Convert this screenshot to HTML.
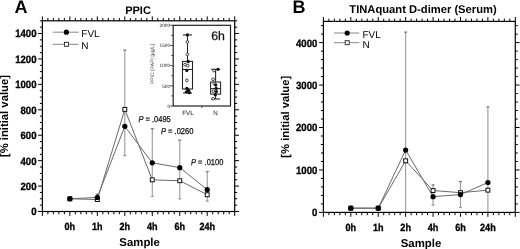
<!DOCTYPE html><html><head><meta charset="utf-8"><style>html,body{margin:0;padding:0;background:#fff;}svg{display:block;will-change:transform;text-rendering:geometricPrecision;font-family:"Liberation Sans",sans-serif;}</style></head><body>
<svg width="520" height="249" viewBox="0 0 520 249">
<rect width="520" height="249" fill="#fff"/>
<clipPath id="clip42"><rect x="42.4" y="20.8" width="192.3" height="190.7"/></clipPath>
<g clip-path="url(#clip42)">
<line x1="97.34" y1="199.55" x2="97.34" y2="194.08" stroke="#9a9a9a" stroke-width="1.1"/>
<line x1="95.84" y1="194.08" x2="98.84" y2="194.08" stroke="#777" stroke-width="1.2"/>
<line x1="124.81" y1="155.56" x2="124.81" y2="50.04" stroke="#9a9a9a" stroke-width="1.1"/>
<line x1="123.31" y1="50.04" x2="126.31" y2="50.04" stroke="#777" stroke-width="1.2"/>
<line x1="123.31" y1="155.56" x2="126.31" y2="155.56" stroke="#999" stroke-width="1.2"/>
<line x1="152.29" y1="196.5" x2="152.29" y2="128.61" stroke="#9a9a9a" stroke-width="1.1"/>
<line x1="150.79" y1="128.61" x2="153.79" y2="128.61" stroke="#777" stroke-width="1.2"/>
<line x1="150.79" y1="196.5" x2="153.79" y2="196.5" stroke="#999" stroke-width="1.2"/>
<line x1="179.76" y1="198.79" x2="179.76" y2="140.18" stroke="#9a9a9a" stroke-width="1.1"/>
<line x1="178.26" y1="140.18" x2="181.26" y2="140.18" stroke="#777" stroke-width="1.2"/>
<line x1="178.26" y1="198.79" x2="181.26" y2="198.79" stroke="#999" stroke-width="1.2"/>
<line x1="207.23" y1="201.08" x2="207.23" y2="171.71" stroke="#9a9a9a" stroke-width="1.1"/>
<line x1="205.73" y1="171.71" x2="208.73" y2="171.71" stroke="#777" stroke-width="1.2"/>
<line x1="205.73" y1="201.08" x2="208.73" y2="201.08" stroke="#999" stroke-width="1.2"/>
</g>
<polyline points="69.87,198.79 97.34,199.55 124.81,109.41 152.29,179.84 179.76,180.73 207.23,194.72" fill="none" stroke="#6a6a6a" stroke-width="1"/>
<polyline points="69.87,198.79 97.34,197.39 124.81,126.32 152.29,162.81 179.76,167.64 207.23,189.63" fill="none" stroke="#6a6a6a" stroke-width="1"/>
<rect x="67.92" y="196.84" width="3.9" height="3.9" fill="#fff" stroke="#111" stroke-width="1"/>
<rect x="95.39" y="197.6" width="3.9" height="3.9" fill="#fff" stroke="#111" stroke-width="1"/>
<rect x="122.86" y="107.46" width="3.9" height="3.9" fill="#fff" stroke="#111" stroke-width="1"/>
<rect x="150.34" y="177.89" width="3.9" height="3.9" fill="#fff" stroke="#111" stroke-width="1"/>
<rect x="177.81" y="178.78" width="3.9" height="3.9" fill="#fff" stroke="#111" stroke-width="1"/>
<rect x="205.28" y="192.77" width="3.9" height="3.9" fill="#fff" stroke="#111" stroke-width="1"/>
<circle cx="69.87" cy="198.79" r="2.6" fill="#000"/>
<circle cx="97.34" cy="197.39" r="2.6" fill="#000"/>
<circle cx="124.81" cy="126.32" r="2.6" fill="#000"/>
<circle cx="152.29" cy="162.81" r="2.6" fill="#000"/>
<circle cx="179.76" cy="167.64" r="2.6" fill="#000"/>
<circle cx="207.23" cy="189.63" r="2.6" fill="#000"/>
<rect x="42.4" y="20.8" width="192.3" height="190.7" fill="none" stroke="#000" stroke-width="1.2"/>
<path d="M42.4,211.5v4.4 M42.4,20.8v-4.4 M47.89,211.5v2.8 M47.89,20.8v-2.8 M53.39,211.5v2.8 M53.39,20.8v-2.8 M58.88,211.5v2.8 M58.88,20.8v-2.8 M64.38,211.5v2.8 M64.38,20.8v-2.8 M69.87,211.5v4.4 M69.87,20.8v-4.4 M75.37,211.5v2.8 M75.37,20.8v-2.8 M80.86,211.5v2.8 M80.86,20.8v-2.8 M86.35,211.5v2.8 M86.35,20.8v-2.8 M91.85,211.5v2.8 M91.85,20.8v-2.8 M97.34,211.5v4.4 M97.34,20.8v-4.4 M102.84,211.5v2.8 M102.84,20.8v-2.8 M108.33,211.5v2.8 M108.33,20.8v-2.8 M113.83,211.5v2.8 M113.83,20.8v-2.8 M119.32,211.5v2.8 M119.32,20.8v-2.8 M124.81,211.5v4.4 M124.81,20.8v-4.4 M130.31,211.5v2.8 M130.31,20.8v-2.8 M135.8,211.5v2.8 M135.8,20.8v-2.8 M141.3,211.5v2.8 M141.3,20.8v-2.8 M146.79,211.5v2.8 M146.79,20.8v-2.8 M152.29,211.5v4.4 M152.29,20.8v-4.4 M157.78,211.5v2.8 M157.78,20.8v-2.8 M163.27,211.5v2.8 M163.27,20.8v-2.8 M168.77,211.5v2.8 M168.77,20.8v-2.8 M174.26,211.5v2.8 M174.26,20.8v-2.8 M179.76,211.5v4.4 M179.76,20.8v-4.4 M185.25,211.5v2.8 M185.25,20.8v-2.8 M190.75,211.5v2.8 M190.75,20.8v-2.8 M196.24,211.5v2.8 M196.24,20.8v-2.8 M201.73,211.5v2.8 M201.73,20.8v-2.8 M207.23,211.5v4.4 M207.23,20.8v-4.4 M212.72,211.5v2.8 M212.72,20.8v-2.8 M218.22,211.5v2.8 M218.22,20.8v-2.8 M223.71,211.5v2.8 M223.71,20.8v-2.8 M229.21,211.5v2.8 M229.21,20.8v-2.8 M234.7,211.5v4.4 M234.7,20.8v-4.4 M42.4,211.5h-4.3 M234.7,211.5h4.3 M42.4,205.14h-2.5 M234.7,205.14h2.5 M42.4,198.79h-2.5 M234.7,198.79h2.5 M42.4,192.43h-2.5 M234.7,192.43h2.5 M42.4,186.07h-4.3 M234.7,186.07h4.3 M42.4,179.72h-2.5 M234.7,179.72h2.5 M42.4,173.36h-2.5 M234.7,173.36h2.5 M42.4,167h-2.5 M234.7,167h2.5 M42.4,160.65h-4.3 M234.7,160.65h4.3 M42.4,154.29h-2.5 M234.7,154.29h2.5 M42.4,147.93h-2.5 M234.7,147.93h2.5 M42.4,141.58h-2.5 M234.7,141.58h2.5 M42.4,135.22h-4.3 M234.7,135.22h4.3 M42.4,128.86h-2.5 M234.7,128.86h2.5 M42.4,122.51h-2.5 M234.7,122.51h2.5 M42.4,116.15h-2.5 M234.7,116.15h2.5 M42.4,109.79h-4.3 M234.7,109.79h4.3 M42.4,103.44h-2.5 M234.7,103.44h2.5 M42.4,97.08h-2.5 M234.7,97.08h2.5 M42.4,90.72h-2.5 M234.7,90.72h2.5 M42.4,84.37h-4.3 M234.7,84.37h4.3 M42.4,78.01h-2.5 M234.7,78.01h2.5 M42.4,71.65h-2.5 M234.7,71.65h2.5 M42.4,65.3h-2.5 M234.7,65.3h2.5 M42.4,58.94h-4.3 M234.7,58.94h4.3 M42.4,52.58h-2.5 M234.7,52.58h2.5 M42.4,46.23h-2.5 M234.7,46.23h2.5 M42.4,39.87h-2.5 M234.7,39.87h2.5 M42.4,33.51h-4.3 M234.7,33.51h4.3 M42.4,27.16h-2.5 M234.7,27.16h2.5 M42.4,20.8h-2.5 M234.7,20.8h2.5" stroke="#000" stroke-width="1.0" fill="none"/>
<text transform="translate(36.5,215.4) scale(1,1.1)" text-anchor="end" font-size="9.6" font-weight="bold" stroke="#000" stroke-width="0.3">0</text>
<text transform="translate(36.5,189.97) scale(1,1.1)" text-anchor="end" font-size="9.6" font-weight="bold" stroke="#000" stroke-width="0.3">200</text>
<text transform="translate(36.5,164.55) scale(1,1.1)" text-anchor="end" font-size="9.6" font-weight="bold" stroke="#000" stroke-width="0.3">400</text>
<text transform="translate(36.5,139.12) scale(1,1.1)" text-anchor="end" font-size="9.6" font-weight="bold" stroke="#000" stroke-width="0.3">600</text>
<text transform="translate(36.5,113.69) scale(1,1.1)" text-anchor="end" font-size="9.6" font-weight="bold" stroke="#000" stroke-width="0.3">800</text>
<text transform="translate(36.5,88.27) scale(1,1.1)" text-anchor="end" font-size="9.6" font-weight="bold" stroke="#000" stroke-width="0.3">1000</text>
<text transform="translate(36.5,62.84) scale(1,1.1)" text-anchor="end" font-size="9.6" font-weight="bold" stroke="#000" stroke-width="0.3">1200</text>
<text transform="translate(36.5,37.41) scale(1,1.1)" text-anchor="end" font-size="9.6" font-weight="bold" stroke="#000" stroke-width="0.3">1400</text>
<text transform="translate(69.87,230.1) scale(1,1.15)" text-anchor="middle" font-size="9.05" font-weight="bold" stroke="#000" stroke-width="0.3">0h</text>
<text transform="translate(97.34,230.1) scale(1,1.15)" text-anchor="middle" font-size="9.05" font-weight="bold" stroke="#000" stroke-width="0.3">1h</text>
<text transform="translate(124.81,230.1) scale(1,1.15)" text-anchor="middle" font-size="9.05" font-weight="bold" stroke="#000" stroke-width="0.3">2h</text>
<text transform="translate(152.29,230.1) scale(1,1.15)" text-anchor="middle" font-size="9.05" font-weight="bold" stroke="#000" stroke-width="0.3">4h</text>
<text transform="translate(179.76,230.1) scale(1,1.15)" text-anchor="middle" font-size="9.05" font-weight="bold" stroke="#000" stroke-width="0.3">6h</text>
<text transform="translate(207.23,230.1) scale(1,1.15)" text-anchor="middle" font-size="9.05" font-weight="bold" stroke="#000" stroke-width="0.3">24h</text>
<text x="139.6" y="245.9" text-anchor="middle" font-size="11.4" font-weight="bold">Sample</text>
<text transform="translate(7.8,116.05) rotate(-90)" text-anchor="middle" font-size="11.25" font-weight="bold">[% initial value]</text>
<text x="138" y="13.7" text-anchor="middle" font-size="11.0" font-weight="bold">PPIC</text>
<text x="14.4" y="12.6" font-size="18" font-weight="bold">A</text>
<line x1="52.8" y1="32.2" x2="78.7" y2="32.2" stroke="#888" stroke-width="1"/>
<line x1="52.8" y1="44.3" x2="78.7" y2="44.3" stroke="#888" stroke-width="1"/>
<circle cx="66.4" cy="32.2" r="2.6" fill="#000"/>
<rect x="64.4" y="42.3" width="4" height="4" fill="#fff" stroke="#222" stroke-width="0.9"/>
<text x="81.3" y="37.1" font-size="10">FVL</text>
<text x="81.3" y="49.2" font-size="10">N</text>
<rect x="173.2" y="25.3" width="57.3" height="80.7" fill="#fff" stroke="#222" stroke-width="1.2"/>
<path d="M173.2,106h-3 M173.2,95.91h-2 M173.2,85.83h-3 M173.2,75.74h-2 M173.2,65.65h-3 M173.2,55.56h-2 M173.2,45.47h-3 M173.2,35.39h-2 M173.2,25.3h-3 M201.85,106v2" stroke="#222" stroke-width="0.8" fill="none"/>
<text x="170.2" y="107.7" text-anchor="end" font-size="4.8" fill="#222">0</text>
<text x="170.2" y="87.53" text-anchor="end" font-size="4.8" fill="#222">500</text>
<text x="170.2" y="67.35" text-anchor="end" font-size="4.8" fill="#222">1000</text>
<text x="170.2" y="47.17" text-anchor="end" font-size="4.8" fill="#222">1500</text>
<text x="170.2" y="27" text-anchor="end" font-size="4.8" fill="#222">2000</text>
<text transform="translate(154.4,64.0) rotate(-90)" text-anchor="middle" font-size="5" fill="#444">PPIC (PAP) [&#181;g/L]</text>
<text x="188.0" y="115.1" text-anchor="middle" font-size="6.3" fill="#111">FVL</text>
<text x="215.6" y="115.1" text-anchor="middle" font-size="6.3" fill="#111">N</text>
<text x="218" y="39.6" text-anchor="middle" font-size="12.3" fill="#111" stroke="#111" stroke-width="0.25">6h</text>
<line x1="187.5" y1="93" x2="187.5" y2="34.9" stroke="#222" stroke-width="1.05"/>
<line x1="183" y1="34.9" x2="192" y2="34.9" stroke="#222" stroke-width="1.05"/>
<line x1="183" y1="93" x2="192" y2="93" stroke="#222" stroke-width="1.05"/>
<rect x="182.5" y="61.4" width="10" height="27.6" fill="#fff" stroke="#222" stroke-width="1.05"/>
<line x1="182.5" y1="69.5" x2="192.5" y2="69.5" stroke="#222" stroke-width="1.05"/>
<line x1="215.6" y1="99" x2="215.6" y2="69.3" stroke="#222" stroke-width="1.05"/>
<line x1="211.1" y1="69.3" x2="220.1" y2="69.3" stroke="#222" stroke-width="1.05"/>
<line x1="211.1" y1="99" x2="220.1" y2="99" stroke="#222" stroke-width="1.05"/>
<rect x="210.6" y="82" width="10" height="12.1" fill="#fff" stroke="#222" stroke-width="1.05"/>
<line x1="210.6" y1="88.6" x2="220.6" y2="88.6" stroke="#222" stroke-width="1.05"/>
<circle cx="187.4" cy="34.9" r="1.65" fill="#111"/>
<circle cx="187.4" cy="41.9" r="1.35" fill="#fff" stroke="#222" stroke-width="0.85"/>
<circle cx="187.4" cy="54.4" r="1.35" fill="#fff" stroke="#222" stroke-width="0.85"/>
<circle cx="185.1" cy="64.6" r="1.35" fill="#fff" stroke="#222" stroke-width="0.85"/>
<circle cx="187.7" cy="65.6" r="1.35" fill="#fff" stroke="#222" stroke-width="0.85"/>
<circle cx="188.2" cy="61.5" r="1.65" fill="#111"/>
<circle cx="186.8" cy="70.4" r="1.65" fill="#111"/>
<circle cx="186.8" cy="80.4" r="1.35" fill="#fff" stroke="#222" stroke-width="0.85"/>
<circle cx="186.8" cy="88.3" r="1.65" fill="#111"/>
<circle cx="188.6" cy="90.4" r="1.65" fill="#111"/>
<circle cx="186.4" cy="91.8" r="1.65" fill="#111"/>
<circle cx="189.4" cy="92.7" r="1.65" fill="#111"/>
<circle cx="218" cy="69.3" r="1.65" fill="#111"/>
<circle cx="214" cy="70.6" r="1.35" fill="#fff" stroke="#222" stroke-width="0.85"/>
<circle cx="213.1" cy="79.3" r="1.35" fill="#fff" stroke="#222" stroke-width="0.85"/>
<circle cx="214.3" cy="83.6" r="1.35" fill="#fff" stroke="#222" stroke-width="0.85"/>
<circle cx="215.7" cy="85" r="1.65" fill="#111"/>
<circle cx="216.2" cy="88.4" r="1.65" fill="#111"/>
<circle cx="213.4" cy="91.1" r="1.35" fill="#fff" stroke="#222" stroke-width="0.85"/>
<circle cx="216.4" cy="91.6" r="1.65" fill="#111"/>
<circle cx="215.3" cy="94.7" r="1.65" fill="#111"/>
<circle cx="213.1" cy="98.7" r="1.35" fill="#fff" stroke="#222" stroke-width="0.85"/>
<text transform="translate(138.4,122.2) scale(1,1.14)" font-size="7.5" fill="#111" stroke="#111" stroke-width="0.22"><tspan font-style="italic">P</tspan> = .0495</text>
<text transform="translate(161.0,134.3) scale(1,1.14)" font-size="7.5" fill="#111" stroke="#111" stroke-width="0.22"><tspan font-style="italic">P</tspan> = .0260</text>
<text transform="translate(191.0,165.1) scale(1,1.14)" font-size="7.5" fill="#111" stroke="#111" stroke-width="0.22"><tspan font-style="italic">P</tspan> = .0100</text>
<clipPath id="clip323"><rect x="323.4" y="21.4" width="191.9" height="191"/></clipPath>
<g clip-path="url(#clip323)">
<line x1="405.64" y1="220.89" x2="405.64" y2="32.1" stroke="#9a9a9a" stroke-width="1.1"/>
<line x1="404.14" y1="32.1" x2="407.14" y2="32.1" stroke="#777" stroke-width="1.2"/>
<line x1="433.06" y1="205.18" x2="433.06" y2="184.94" stroke="#9a9a9a" stroke-width="1.1"/>
<line x1="431.56" y1="184.94" x2="434.56" y2="184.94" stroke="#777" stroke-width="1.2"/>
<line x1="431.56" y1="205.18" x2="434.56" y2="205.18" stroke="#999" stroke-width="1.2"/>
<line x1="460.47" y1="207.48" x2="460.47" y2="181.67" stroke="#9a9a9a" stroke-width="1.1"/>
<line x1="458.97" y1="181.67" x2="461.97" y2="181.67" stroke="#777" stroke-width="1.2"/>
<line x1="458.97" y1="207.48" x2="461.97" y2="207.48" stroke="#999" stroke-width="1.2"/>
<line x1="487.89" y1="220.89" x2="487.89" y2="106.97" stroke="#9a9a9a" stroke-width="1.1"/>
<line x1="486.39" y1="106.97" x2="489.39" y2="106.97" stroke="#777" stroke-width="1.2"/>
</g>
<polyline points="350.81,208.16 378.23,208.16 405.64,160.79 433.06,190.54 460.47,192.66 487.89,190.16" fill="none" stroke="#6a6a6a" stroke-width="1"/>
<polyline points="350.81,208.16 378.23,208.16 405.64,150.05 433.06,196.65 460.47,194.57 487.89,182.52" fill="none" stroke="#6a6a6a" stroke-width="1"/>
<rect x="348.86" y="206.21" width="3.9" height="3.9" fill="#fff" stroke="#111" stroke-width="1"/>
<rect x="376.28" y="206.21" width="3.9" height="3.9" fill="#fff" stroke="#111" stroke-width="1"/>
<rect x="403.69" y="158.84" width="3.9" height="3.9" fill="#fff" stroke="#111" stroke-width="1"/>
<rect x="431.11" y="188.59" width="3.9" height="3.9" fill="#fff" stroke="#111" stroke-width="1"/>
<rect x="458.52" y="190.71" width="3.9" height="3.9" fill="#fff" stroke="#111" stroke-width="1"/>
<rect x="485.94" y="188.21" width="3.9" height="3.9" fill="#fff" stroke="#111" stroke-width="1"/>
<circle cx="350.81" cy="208.16" r="2.6" fill="#000"/>
<circle cx="378.23" cy="208.16" r="2.6" fill="#000"/>
<circle cx="405.64" cy="150.05" r="2.6" fill="#000"/>
<circle cx="433.06" cy="196.65" r="2.6" fill="#000"/>
<circle cx="460.47" cy="194.57" r="2.6" fill="#000"/>
<circle cx="487.89" cy="182.52" r="2.6" fill="#000"/>
<rect x="323.4" y="21.4" width="191.9" height="191" fill="none" stroke="#000" stroke-width="1.2"/>
<path d="M323.4,212.4v4.4 M323.4,21.4v-4.4 M328.88,212.4v2.8 M328.88,21.4v-2.8 M334.37,212.4v2.8 M334.37,21.4v-2.8 M339.85,212.4v2.8 M339.85,21.4v-2.8 M345.33,212.4v2.8 M345.33,21.4v-2.8 M350.81,212.4v4.4 M350.81,21.4v-4.4 M356.3,212.4v2.8 M356.3,21.4v-2.8 M361.78,212.4v2.8 M361.78,21.4v-2.8 M367.26,212.4v2.8 M367.26,21.4v-2.8 M372.75,212.4v2.8 M372.75,21.4v-2.8 M378.23,212.4v4.4 M378.23,21.4v-4.4 M383.71,212.4v2.8 M383.71,21.4v-2.8 M389.19,212.4v2.8 M389.19,21.4v-2.8 M394.68,212.4v2.8 M394.68,21.4v-2.8 M400.16,212.4v2.8 M400.16,21.4v-2.8 M405.64,212.4v4.4 M405.64,21.4v-4.4 M411.13,212.4v2.8 M411.13,21.4v-2.8 M416.61,212.4v2.8 M416.61,21.4v-2.8 M422.09,212.4v2.8 M422.09,21.4v-2.8 M427.57,212.4v2.8 M427.57,21.4v-2.8 M433.06,212.4v4.4 M433.06,21.4v-4.4 M438.54,212.4v2.8 M438.54,21.4v-2.8 M444.02,212.4v2.8 M444.02,21.4v-2.8 M449.51,212.4v2.8 M449.51,21.4v-2.8 M454.99,212.4v2.8 M454.99,21.4v-2.8 M460.47,212.4v4.4 M460.47,21.4v-4.4 M465.95,212.4v2.8 M465.95,21.4v-2.8 M471.44,212.4v2.8 M471.44,21.4v-2.8 M476.92,212.4v2.8 M476.92,21.4v-2.8 M482.4,212.4v2.8 M482.4,21.4v-2.8 M487.89,212.4v4.4 M487.89,21.4v-4.4 M493.37,212.4v2.8 M493.37,21.4v-2.8 M498.85,212.4v2.8 M498.85,21.4v-2.8 M504.33,212.4v2.8 M504.33,21.4v-2.8 M509.82,212.4v2.8 M509.82,21.4v-2.8 M515.3,212.4v4.4 M515.3,21.4v-4.4 M323.4,212.4h-4.3 M515.3,212.4h4.3 M323.4,203.91h-2.5 M515.3,203.91h2.5 M323.4,195.42h-2.5 M515.3,195.42h2.5 M323.4,186.93h-2.5 M515.3,186.93h2.5 M323.4,178.44h-2.5 M515.3,178.44h2.5 M323.4,169.96h-4.3 M515.3,169.96h4.3 M323.4,161.47h-2.5 M515.3,161.47h2.5 M323.4,152.98h-2.5 M515.3,152.98h2.5 M323.4,144.49h-2.5 M515.3,144.49h2.5 M323.4,136h-2.5 M515.3,136h2.5 M323.4,127.51h-4.3 M515.3,127.51h4.3 M323.4,119.02h-2.5 M515.3,119.02h2.5 M323.4,110.53h-2.5 M515.3,110.53h2.5 M323.4,102.04h-2.5 M515.3,102.04h2.5 M323.4,93.56h-2.5 M515.3,93.56h2.5 M323.4,85.07h-4.3 M515.3,85.07h4.3 M323.4,76.58h-2.5 M515.3,76.58h2.5 M323.4,68.09h-2.5 M515.3,68.09h2.5 M323.4,59.6h-2.5 M515.3,59.6h2.5 M323.4,51.11h-2.5 M515.3,51.11h2.5 M323.4,42.62h-4.3 M515.3,42.62h4.3 M323.4,34.13h-2.5 M515.3,34.13h2.5 M323.4,25.64h-2.5 M515.3,25.64h2.5" stroke="#000" stroke-width="1.0" fill="none"/>
<text transform="translate(317.3,216.3) scale(1,1.1)" text-anchor="end" font-size="9.6" font-weight="bold" stroke="#000" stroke-width="0.3">0</text>
<text transform="translate(317.3,173.86) scale(1,1.1)" text-anchor="end" font-size="9.6" font-weight="bold" stroke="#000" stroke-width="0.3">1000</text>
<text transform="translate(317.3,131.41) scale(1,1.1)" text-anchor="end" font-size="9.6" font-weight="bold" stroke="#000" stroke-width="0.3">2000</text>
<text transform="translate(317.3,88.97) scale(1,1.1)" text-anchor="end" font-size="9.6" font-weight="bold" stroke="#000" stroke-width="0.3">3000</text>
<text transform="translate(317.3,46.52) scale(1,1.1)" text-anchor="end" font-size="9.6" font-weight="bold" stroke="#000" stroke-width="0.3">4000</text>
<text transform="translate(350.81,231) scale(1,1.15)" text-anchor="middle" font-size="9.05" font-weight="bold" stroke="#000" stroke-width="0.3">0h</text>
<text transform="translate(378.23,231) scale(1,1.15)" text-anchor="middle" font-size="9.05" font-weight="bold" stroke="#000" stroke-width="0.3">1h</text>
<text transform="translate(405.64,231) scale(1,1.15)" text-anchor="middle" font-size="9.05" font-weight="bold" stroke="#000" stroke-width="0.3">2h</text>
<text transform="translate(433.06,231) scale(1,1.15)" text-anchor="middle" font-size="9.05" font-weight="bold" stroke="#000" stroke-width="0.3">4h</text>
<text transform="translate(460.47,231) scale(1,1.15)" text-anchor="middle" font-size="9.05" font-weight="bold" stroke="#000" stroke-width="0.3">6h</text>
<text transform="translate(487.89,231) scale(1,1.15)" text-anchor="middle" font-size="9.05" font-weight="bold" stroke="#000" stroke-width="0.3">24h</text>
<text x="421" y="246.8" text-anchor="middle" font-size="11.4" font-weight="bold">Sample</text>
<text transform="translate(289,116.7) rotate(-90)" text-anchor="middle" font-size="11.25" font-weight="bold">[% initial value]</text>
<text x="423" y="13.2" text-anchor="middle" font-size="11.2" font-weight="bold">TINAquant D-dimer (Serum)</text>
<text x="292.6" y="12.5" font-size="18" font-weight="bold">B</text>
<line x1="334" y1="33" x2="359.3" y2="33" stroke="#888" stroke-width="1"/>
<line x1="334" y1="42.7" x2="359.3" y2="42.7" stroke="#888" stroke-width="1"/>
<circle cx="347.2" cy="33" r="2.6" fill="#000"/>
<rect x="345.2" y="40.7" width="4" height="4" fill="#fff" stroke="#222" stroke-width="0.9"/>
<text x="362.4" y="38" font-size="10">FVL</text>
<text x="362.4" y="47.6" font-size="10">N</text>
</svg></body></html>
